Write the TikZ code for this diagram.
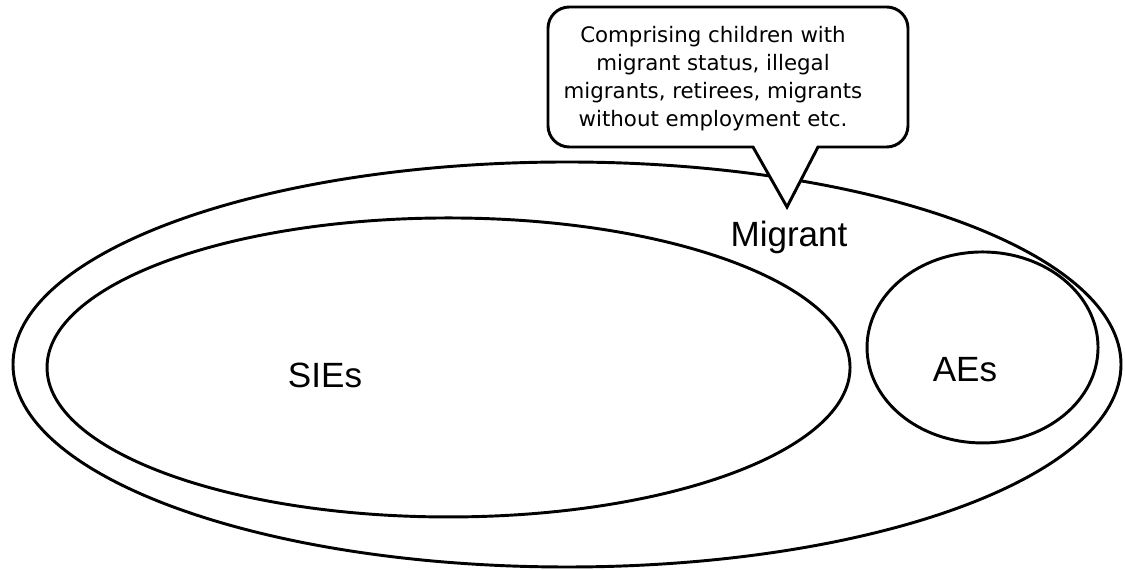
\documentclass[tikz,border=0pt]{standalone}
\usepackage{fontspec}
\setmainfont{Liberation Sans}
\newfontfamily\calloutfont{DejaVu Sans}
\usetikzlibrary{shapes.geometric}
\begin{document}
\begin{tikzpicture}[x=1pt,y=1pt,
  ring/.style={draw, ellipse, line width=2.2pt, inner sep=0pt, outer sep=0pt},
  biglabel/.style={font=\fontsize{26.3}{30}\selectfont, anchor=base, inner sep=0pt},
  callouttext/.style={font=\calloutfont\fontsize{16}{21}\selectfont, align=center, inner sep=0pt}
]
\useasboundingbox (0,0) rectangle (843.75,427.5);
\node[ring, minimum width=831pt, minimum height=303.75pt] (outer) at (425.25,154.125) {};
\node[ring, minimum width=602.25pt, minimum height=224.25pt] (sies) at (336.4,151.9) {};
\node[ring, minimum width=173.25pt, minimum height=143.25pt] (aes) at (736.9,166.9) {};
\coordinate (tip) at (590.25,272.25);
\draw[fill=white, line width=2.2pt, line join=miter]
  (564.75,317.25) -- (tip) -- (613.5,317.25)
  [rounded corners=16pt] -- (681,317.25) -- (681,422.25) -- (411,422.25) -- (411,317.25)
  [sharp corners] -- cycle;
\node[callouttext] (note) at (534.75,368.6) {Comprising children with\\migrant status, illegal\\migrants, retirees, migrants\\without employment etc.};
\node[biglabel] (migrant) at (591.75,242.25) {Migrant};
\node[biglabel] (sieslabel) at (243.75,136.5) {SIEs};
\node[biglabel] (aeslabel) at (723.75,141) {AEs};
\end{tikzpicture}
\end{document}
